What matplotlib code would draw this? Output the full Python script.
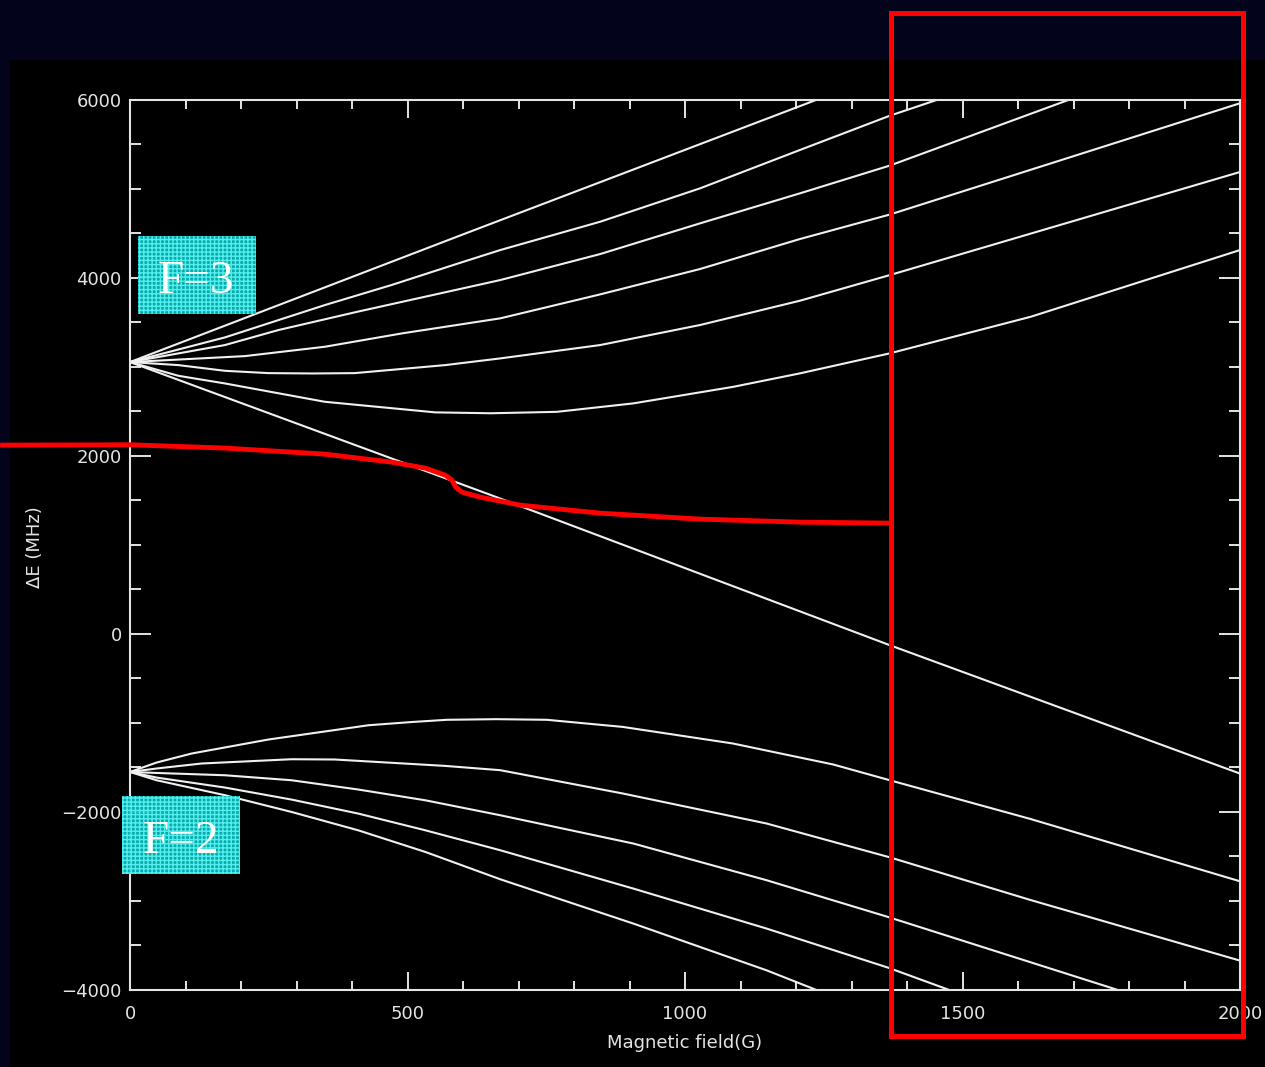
import matplotlib
matplotlib.use("Agg")
import matplotlib.pyplot as plt
from matplotlib.patches import Rectangle
from matplotlib.ticker import MultipleLocator

# ---------------- data ----------------
# F=3 manifold (7 sublevels), magnetic field in G, energy in MHz
b_f3_a = [0, 600, 1250]
e_f3_a = [3053, 4487, 6030]
b_f3_b = [0, 171, 351, 471, 592, 667, 847, 1027, 1207, 1369, 1455]
e_f3_b = [3053, 3330, 3693, 3918, 4162, 4311, 4629, 5004, 5435, 5820, 6000]
b_f3_c = [0, 171, 267, 411, 667, 847, 1027, 1207, 1369, 1692]
e_f3_c = [3053, 3244, 3412, 3620, 3974, 4266, 4611, 4948, 5260, 6000]
b_f3_d = [0, 207, 351, 490, 667, 847, 1027, 1207, 1369, 2000]
e_f3_d = [3053, 3120, 3225, 3375, 3544, 3813, 4098, 4435, 4710, 5960]
b_f3_e = [0, 87, 171, 249, 330, 405, 568, 667, 847, 1027, 1207, 1369, 2000]
e_f3_e = [3053, 3019, 2955, 2929, 2925, 2929, 3019, 3094, 3244, 3469, 3742, 4030, 5188]
b_f3_f = [0, 87, 171, 351, 550, 650, 769, 907, 1087, 1207, 1369, 1623, 2000]
e_f3_f = [3053, 2899, 2813, 2607, 2488, 2478, 2494, 2589, 2775, 2926, 3151, 3562, 4311]
b_f3_g = [0, 650, 1369, 2000]
e_f3_g = [3053, 1560, -127, -1569]

# F=2 manifold (5 sublevels)
b_f2_a = [0, 48, 111, 249, 430, 510, 571, 660, 751, 888, 1086, 1267, 1369, 1623, 2000]
e_f2_a = [-1551, -1445, -1344, -1187, -1026, -989, -965, -958, -965, -1045, -1231, -1467, -1644, -2080, -2779]
b_f2_b = [0, 48, 129, 291, 369, 568, 667, 888, 1147, 1369, 1623, 2000]
e_f2_b = [-1551, -1512, -1456, -1408, -1411, -1483, -1531, -1793, -2130, -2510, -2990, -3670]
b_f2_c = [0, 48, 171, 291, 411, 532, 667, 907, 1147, 1366, 1790]
e_f2_c = [-1551, -1562, -1588, -1644, -1748, -1869, -2037, -2355, -2767, -3180, -4020]
b_f2_d = [0, 48, 171, 291, 411, 532, 667, 907, 1147, 1366, 1485]
e_f2_d = [-1551, -1614, -1726, -1861, -2018, -2206, -2430, -2861, -3310, -3749, -4020]
b_f2_e = [0, 48, 171, 291, 411, 532, 667, 907, 1147, 1245]
e_f2_e = [-1551, -1644, -1812, -2000, -2206, -2449, -2756, -3254, -3779, -4020]

# red hand-drawn annotation curve (data units, starts left of the axis)
red_b = [-234, 0, 171, 351, 472, 532, 568, 580, 587, 598, 631, 703, 847, 1027, 1207, 1369]
red_e = [2120, 2124, 2087, 2019, 1929, 1862, 1783, 1727, 1648, 1592, 1536, 1446, 1356, 1289, 1255, 1244]

x_ticks = [0, 500, 1000, 1500, 2000]
y_ticks = [-4000, -2000, 0, 2000, 4000, 6000]
x_label = "Magnetic field(G)"
y_label = "ΔE (MHz)"
labels_F = ["F=3", "F=2"]

# ---------------- figure ----------------
W, H = 1265, 1067
fig = plt.figure(figsize=(W / 100, H / 100), dpi=100)
fig.patch.set_facecolor("#03041c")


def fx(px):
    return px / W


def fy(py):
    return 1 - py / H


# black slide area
fig.patches.append(Rectangle((fx(10), 0), fx(W - 10), fy(60), transform=fig.transFigure,
                             facecolor="black", edgecolor="none", zorder=-1))

ax = fig.add_axes([fx(130), fy(990), fx(1110), (990 - 99.7) / H])
ax.set_facecolor("black")
ax.set_xlim(0, 2000)
ax.set_ylim(-4000, 6000)

fg = "#e4e4e4"
for s in ax.spines.values():
    s.set_color(fg)
    s.set_linewidth(1.5)

ax.set_xticks(x_ticks)
ax.set_yticks(y_ticks)
ax.xaxis.set_minor_locator(MultipleLocator(100))
ax.yaxis.set_minor_locator(MultipleLocator(500))
ax.tick_params(axis="x", which="major", direction="in", length=13, width=1.4, color=fg,
               top=True, bottom=True, labelsize=13, labelcolor=fg, pad=11)
ax.tick_params(axis="x", which="minor", direction="in", length=6.5, width=1.4, color=fg,
               top=True, bottom=True)
ax.tick_params(axis="y", which="major", direction="in", length=15, width=1.4, color=fg,
               left=True, right=True, labelsize=13, labelcolor=fg, pad=6)
ax.tick_params(axis="y", which="minor", direction="in", length=8, width=1.4, color=fg,
               left=True, right=True)
ax.set_xticklabels([f"{t:d}" for t in x_ticks])
ax.set_yticklabels([f"{t:d}".replace("-", "\u2212") for t in y_ticks])

line_kw = dict(color="#f0f0f0", lw=1.5, solid_joinstyle="round")
for b, e in [(b_f3_a, e_f3_a), (b_f3_b, e_f3_b), (b_f3_c, e_f3_c), (b_f3_d, e_f3_d),
             (b_f3_e, e_f3_e), (b_f3_f, e_f3_f), (b_f3_g, e_f3_g),
             (b_f2_a, e_f2_a), (b_f2_b, e_f2_b), (b_f2_c, e_f2_c), (b_f2_d, e_f2_d),
             (b_f2_e, e_f2_e)]:
    ax.plot(b, e, **line_kw)

# red annotation curve
ax.plot(red_b, red_e, color="#ff0000", lw=3.5, clip_on=False, zorder=10,
        solid_capstyle="butt")

# axis labels
fig.text(fx(685), fy(1043), x_label, color=fg, fontsize=13, ha="center", va="center")
fig.text(fx(35), fy(547), y_label, color=fg, fontsize=13, ha="center", va="center",
         rotation=90)

# cyan label boxes
for (x0, y0, x1, y1), lab, (tx, ty) in [((138, 236, 256, 314), labels_F[0], (196, 293)),
                                         ((122, 796, 240, 874), labels_F[1], (181, 853))]:
    fig.patches.append(Rectangle((fx(x0), fy(y1)), fx(x1 - x0), (y1 - y0) / H,
                                 transform=fig.transFigure, facecolor="#0ab8b8",
                                 edgecolor="#5cf4f4", hatch="++++", lw=0, alpha=0.93,
                                 zorder=3))
    fig.text(fx(tx), fy(ty), lab, color="white", fontsize=34, family="Liberation Serif",
             ha="center", va="baseline", zorder=4)

# red highlight rectangle
fig.patches.append(Rectangle((fx(891), fy(1036)), fx(1243 - 891), (1036 - 12.5) / H,
                             transform=fig.transFigure, facecolor="none",
                             edgecolor="#ff0000", lw=3.6, zorder=6))

fig.savefig("out.png", dpi=100, facecolor=fig.get_facecolor())
